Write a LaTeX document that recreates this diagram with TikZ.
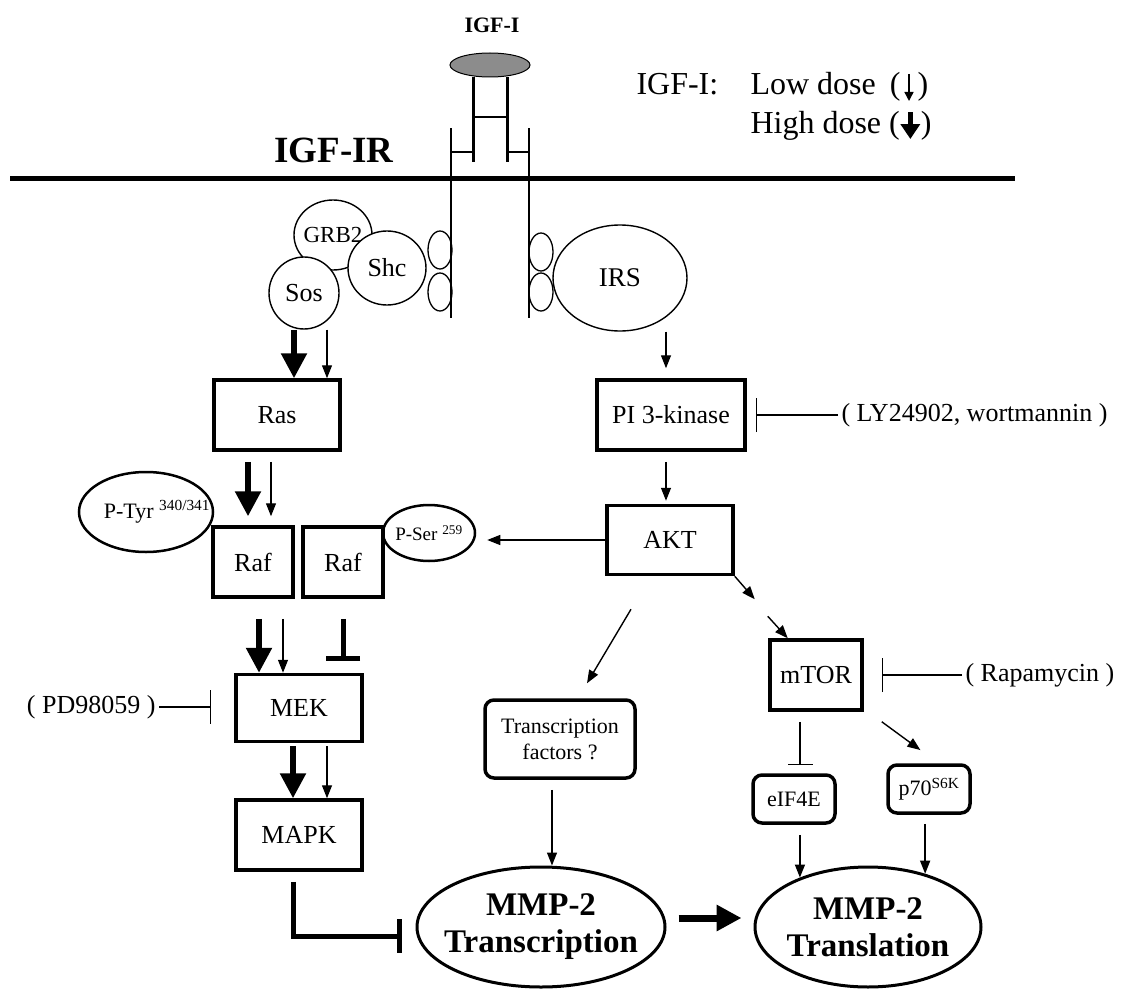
\documentclass[tikz,border=0pt]{standalone}
\usepackage{fontspec}
\setmainfont{Liberation Serif}
\usetikzlibrary{arrows.meta,shapes.geometric,calc}
\newcommand{\fsz}[2]{\fontsize{#1}{#2}\selectfont}
\newcommand{\zw}[1]{\makebox[0pt]{#1}}
\newcommand{\dosearrow}[3]{\tikz[baseline=0pt]\draw[line width=#1,-{Triangle[length=#2,width=#3]}] (0,21pt) -- (0,-6pt);}
\tikzset{
  kbox/.style={draw, line width=3.5pt, minimum height=70pt, font=\fsz{26}{30}},
  rbox/.style={draw, line width=3.5pt, rounded corners=9pt, align=center, font=\fsz{22}{26}},
  blob/.style={draw, ellipse, inner sep=0pt, line width=1.4pt, fill=white, font=\fsz{26}{30}},
  pbub/.style={draw, ellipse, inner sep=0pt, line width=2.5pt},
  mmp/.style={draw, ellipse, inner sep=0pt, line width=3pt, align=center, font=\bfseries\fsz{33}{37}},
  drug/.style={font=\fsz{26}{30}},
  act/.style={line width=1.4pt, -{Triangle[length=13pt,width=10pt]}},
  hiact/.style={line width=5.5pt, -{Triangle[length=25pt,width=25pt]}},
  blk/.style={line width=1.2pt, -{Bar[width=34pt]}},
  hiblk/.style={line width=5pt, -{Bar[width=34pt]}}
}
\begin{document}
\begin{tikzpicture}[x=1pt,y=-1pt]
  \useasboundingbox (0,0) rectangle (1128,990);
  \draw[line width=5pt] (10,178) -- (1015,178);
  \draw[line width=2.6pt] (451,128) -- (451,318) (529,128) -- (529,318);
  \draw[line width=3pt] (473,77) -- (473,162) (507,77) -- (507,162);
  \draw[line width=1.3pt] (473,117) -- (507,117) (451,152) -- (473,152) (507,152) -- (529,152);
  \node[draw, ellipse, fill=black!45, line width=1pt, minimum width=80pt, minimum height=24pt] (lig) at (490,65) {};
  \node[anchor=base, font=\bfseries\fsz{22}{26}] (igf) at (492,33) {IGF-I};
  \node[anchor=base, font=\bfseries\fsz{37}{40}] (igfr) at (334,162) {IGF-IR};
  \node[anchor=base west, font=\fsz{32}{36}] (keyname) at (633,95) {IGF-I:};
  \node[anchor=base west, font=\fsz{32}{36}] (keylow) at (747,95)
    {Low dose\hspace{14pt}(\hspace{4pt}\dosearrow{1.4pt}{9pt}{9pt}\hspace{4pt})};
  \node[anchor=base west, font=\fsz{32}{36}] (keyhigh) at (747,133)
    {High dose (\hspace{1pt}\dosearrow{4.5pt}{15pt}{19pt}\hspace{1pt})};
  \node[blob, minimum width=78pt, minimum height=70pt, font=\fsz{23}{27}] (grb2) at (333,235) {\zw{GRB2}};
  \node[blob, minimum width=78pt, minimum height=74pt] (shc) at (387,268) {\zw{Shc}};
  \node[blob, minimum width=70pt, minimum height=72pt] (sos) at (304,293) {\zw{Sos}};
  \node[blob, minimum width=134pt, minimum height=106pt, font=\fsz{27}{30}] (irs) at (620,278) {\zw{IRS}};
  \node[draw, ellipse, inner sep=0pt, line width=1.3pt, minimum width=24pt, minimum height=38pt] (ovl1) at (440,250) {};
  \node[draw, ellipse, inner sep=0pt, line width=1.3pt, minimum width=24pt, minimum height=38pt] (ovl2) at (440,292) {};
  \node[draw, ellipse, inner sep=0pt, line width=1.3pt, minimum width=24pt, minimum height=38pt] (ovr1) at (541,252) {};
  \node[draw, ellipse, inner sep=0pt, line width=1.3pt, minimum width=24pt, minimum height=38pt] (ovr2) at (541,292) {};
  \node[kbox, minimum width=126pt] (ras) at (277,415) {Ras};
  \node[kbox, minimum width=148pt] (pi3k) at (671,415) {PI 3-kinase};
  \node[kbox, minimum width=80pt] (raf1) at (253,562) {Raf};
  \node[kbox, minimum width=80pt] (raf2) at (343,562) {Raf};
  \node[kbox, minimum width=126pt, minimum height=69pt] (akt) at (670,540) {AKT};
  \node[kbox, minimum width=126pt, minimum height=67pt] (mek) at (299,708) {MEK};
  \node[kbox, minimum width=126pt] (mapk) at (299,835) {MAPK};
  \node[kbox, minimum width=92pt] (mtor) at (816,675) {mTOR};
  \node[rbox, minimum width=150pt, minimum height=78pt] (tf) at (560,739) {Transcription\\factors ?};
  \node[rbox, minimum width=82pt, minimum height=48pt] (eif) at (794,799) {eIF4E};
  \node[rbox, minimum width=82pt, minimum height=48pt] (p70) at (929,789) {p70\textsuperscript{S6K}};
  \node[pbub, minimum width=134pt, minimum height=80pt, font=\fsz{22}{26}] (ptyr) at (146,512) {\zw{\hspace{22pt}P-Tyr \textsuperscript{340/341}}};
  \node[pbub, minimum width=92pt, minimum height=56pt, font=\fsz{19}{23}] (pser) at (429,533) {\zw{P-Ser \textsuperscript{259}}};
  \node[mmp, minimum width=248pt, minimum height=120pt] (mtxn) at (541,927) {\zw{MMP-2}\\\zw{Transcription}};
  \node[mmp, minimum width=226pt, minimum height=120pt] (mtsl) at (868,927) {\zw{MMP-2}\\\zw{Translation}};
  \node[drug, anchor=west] (ly) at (838,415) {( LY24902, wortmannin )};
  \node[drug, anchor=west] (rapa) at (962,675) {( Rapamycin )};
  \node[drug, anchor=east] (pd) at (159,707) {( PD98059 )};
  \begin{scope}
    \draw[hiact] ([xshift=-10pt]sos.south) -- ([xshift=-10pt]sos.south |- ras.north);
    \draw[act] ([xshift=23pt]sos.south) -- ([xshift=23pt]sos.south |- ras.north);
    \draw[hiact, shorten <=10pt, shorten >=9pt] ([xshift=-29pt]ras.south) -- ([xshift=-29pt]ras.south |- raf1.north);
    \draw[act, shorten <=10pt, shorten >=9pt] ([xshift=-6pt]ras.south) -- ([xshift=-6pt]ras.south |- raf1.north);
    \draw[hiact, shorten <=20pt] ([xshift=6pt]raf1.south) -- ([xshift=6pt]raf1.south |- mek.north);
    \draw[act, shorten <=20pt] ([xshift=30pt]raf1.south) -- ([xshift=30pt]raf1.south |- mek.north);
    \draw[hiblk, shorten <=20pt, shorten >=12pt] (raf2.south) -- (raf2.south |- mek.north);
    \draw[hiact, shorten <=3pt] ([xshift=-6pt]mek.south) -- ([xshift=-6pt]mek.south |- mapk.north);
    \draw[act, shorten <=3pt] ([xshift=28pt]mek.south) -- ([xshift=28pt]mek.south |- mapk.north);
    \draw[hiblk, shorten <=10pt] ([xshift=-6pt]mapk.south) |- ([shift={(-14,9)}]mtxn.west);
    \draw[act, shorten >=10pt] ([xshift=-5pt]pi3k.north |- irs.south) -- ([xshift=-5pt]pi3k.north);
    \draw[act, shorten <=10pt, shorten >=3pt] ([xshift=-5pt]pi3k.south) -- ([xshift=-5pt]pi3k.south |- akt.north);
    \draw[act, shorten >=11pt] (akt.west) -- (pser.east |- akt.west);
    \draw[act] (akt.south east) -- ++(20,23);
    \draw[act] ([shift={(33,40)}]akt.south east) -- ++(20,22);
    \draw[act] ([shift={(-39,33)}]akt.south) -- ([shift={(27,-15)}]tf.north);
    \draw[act, shorten <=10pt] ([xshift=-8pt]tf.south) -- ([xshift=-8pt]tf.south |- mtxn.north);
    \draw[line width=1.2pt, -{Bar[width=25pt]}, shorten <=10pt, shorten >=8pt] ([xshift=-16pt]mtor.south) -- ([xshift=-16pt]mtor.south |- eif.north);
    \draw[act, shorten >=2pt] ([shift={(18,10)}]mtor.south east) -- ([shift={(-7,-12)}]p70.north);
    \draw[act, shorten <=10pt] (mtsl.144 |- eif.south) -- (mtsl.144);
    \draw[act, shorten <=9pt] (mtsl.43 |- p70.south) -- (mtsl.43);
    \draw[hiact, line width=7pt, shorten <=12pt, shorten >=12pt] ([yshift=9pt]mtxn.east) -- ([yshift=9pt]mtxn.east -| mtsl.west);
    \draw[blk, shorten >=9pt] (ly.west) -- (ly.west -| pi3k.east);
    \draw[blk, shorten >=18pt] (rapa.west) -- (rapa.west -| mtor.east);
    \draw[blk, shorten >=23pt] (pd.east) -- (pd.east -| mek.west);
  \end{scope}
\end{tikzpicture}
\end{document}
